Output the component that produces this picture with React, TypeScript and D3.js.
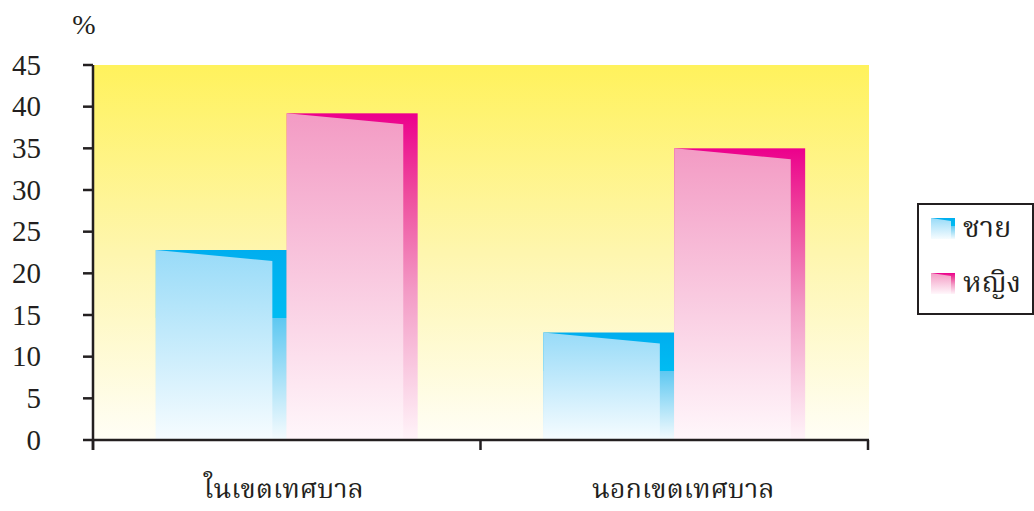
import React from "react";
import * as d3 from "d3";

// Share of population by area and sex (%)
const categories = ["ในเขตเทศบาล", "นอกเขตเทศบาล"];
const seriesNames = ["ชาย", "หญิง"];
const maleValues = [22.8, 12.9];
const femaleValues = [39.2, 35.0];
const yTickValues = [0, 5, 10, 15, 20, 25, 30, 35, 40, 45];

const W = 1034;
const H = 511;
const plot = { left: 93, right: 869, top: 65, bottom: 440 };

const thaiFont = "'Noto Serif Thai', Norasi, Kinnari, Loma, Garuda, 'Noto Sans Thai', 'DejaVu Sans', sans-serif";
const numFont = "'Liberation Serif', Tinos, 'Times New Roman', 'DejaVu Serif', serif";
const ink = "#231F20";

// gradient stops for the side strip and the front face of each series
const backStops = [
  [[0, "#00AEEF"], [0.36, "#00BCF2"], [0.36, "#5EC8F1"], [1, "#F5FBFE"]],
  [[0, "#EC008C"], [0.25, "#EE4D9E"], [0.55, "#F39CC6"], [1, "#FFF4F9"]],
] as [number, string][][];
const faceStops = [
  [[0, "#98DBF8"], [1, "#F6FCFF"]],
  [[0, "#F39BC4"], [1, "#FFF7FB"]],
] as [number, string][][];

// small horizontal nudges of the category captions
const captionShift = [-3, 9];

export default function App() {
  const y = d3.scaleLinear().domain([0, 45]).range([plot.bottom, plot.top]);
  const x0 = d3.scaleBand<string>().domain(categories).range([plot.left, 868]).paddingInner(0).paddingOuter(0);
  const x1 = d3.scaleBand<string>().domain(seriesNames).range([0, x0.bandwidth()]).paddingInner(0).paddingOuter(0.48);

  const rows = categories.map((c, i) => ({ category: c, values: [maleValues[i], femaleValues[i]] }));
  const bw = x1.bandwidth();
  const faceW = bw * 0.89;
  const slant = 11;

  return (
    <svg width={W} height={H} style={{ position: "absolute", left: 0, top: 0, background: "#fff" }}>
      <defs>
        <linearGradient id="bg" x1="0" y1="0" x2="0" y2="1">
          <stop offset="0" stopColor="#FFF25C" />
          <stop offset="0.5" stopColor="#FEF6AE" />
          <stop offset="1" stopColor="#FFFEF6" />
        </linearGradient>
        {seriesNames.map((_, i) => (
          <React.Fragment key={i}>
            <linearGradient id={`back${i}`} x1="0" y1="0" x2="0" y2="1">
              {backStops[i].map(([o, c], k) => <stop key={k} offset={o} stopColor={c} />)}
            </linearGradient>
            <linearGradient id={`face${i}`} x1="0" y1="0" x2="0" y2="1">
              {faceStops[i].map(([o, c], k) => <stop key={k} offset={o} stopColor={c} />)}
            </linearGradient>
          </React.Fragment>
        ))}
      </defs>

      <rect x={plot.left + 1} y={plot.top} width={plot.right - plot.left - 1} height={plot.bottom - plot.top} fill="url(#bg)" />

      {rows.map((r) => (
        <g key={r.category} transform={`translate(${x0(r.category)},0)`}>
          {r.values.map((v, si) => {
            const bx = x1(seriesNames[si])!;
            const top = y(v);
            const base = y(0);
            const face = [
              [bx, top],
              [bx + faceW, top + slant],
              [bx + faceW, base],
              [bx, base],
            ];
            return (
              <g key={si}>
                <rect x={bx} y={top} width={bw} height={base - top} fill={`url(#back${si})`} />
                <path d={d3.line()(face as [number, number][])! + "Z"} fill={`url(#face${si})`} />
              </g>
            );
          })}
        </g>
      ))}

      {/* axes */}
      <line x1={plot.left} x2={plot.left} y1={plot.top} y2={plot.bottom + 10} stroke={ink} strokeWidth={2.5} />
      <line x1={plot.left} x2={plot.right} y1={plot.bottom} y2={plot.bottom} stroke={ink} strokeWidth={2.5} />
      {yTickValues.map((t) => (
        <g key={t}>
          <line x1={plot.left - 10} x2={plot.left} y1={y(t)} y2={y(t)} stroke={ink} strokeWidth={2.5} />
          <text x={41} y={y(t)} dy="0.33em" textAnchor="end" style={{ fontFamily: numFont }} fontSize={29} fill={ink}>
            {t}
          </text>
        </g>
      ))}
      {[plot.left, ...categories.map((c) => x0(c)! + x0.bandwidth())].map((tx, i) => (
        <line key={i} x1={tx} x2={tx} y1={plot.bottom} y2={plot.bottom + 10} stroke={ink} strokeWidth={2.5} />
      ))}
      <text x={84} y={34} textAnchor="middle" style={{ fontFamily: numFont }} fontSize={28} fill={ink}>%</text>

      {categories.map((c, i) => (
        <text key={c} x={x0(c)! + x0.bandwidth() / 2 + captionShift[i]} y={498} textAnchor="middle" style={{ fontFamily: thaiFont }} fontSize={27} fill={ink}>
          {c}
        </text>
      ))}

      {/* legend */}
      <rect x={918} y={204} width={115} height={110} fill="#fff" stroke={ink} strokeWidth={2} />
      {seriesNames.map((s, i) => {
        const ly = 218 + i * 55;
        return (
          <g key={s}>
            <rect x={931} y={ly} width={24} height={21} fill={`url(#back${i})`} />
            <path d={`M931,${ly}L951,${ly + 3}L951,${ly + 21}L931,${ly + 21}Z`} fill={`url(#face${i})`} />
            <text x={963} y={ly + 19} style={{ fontFamily: thaiFont }} fontSize={29} fill={ink}>{s}</text>
          </g>
        );
      })}
    </svg>
  );
}
